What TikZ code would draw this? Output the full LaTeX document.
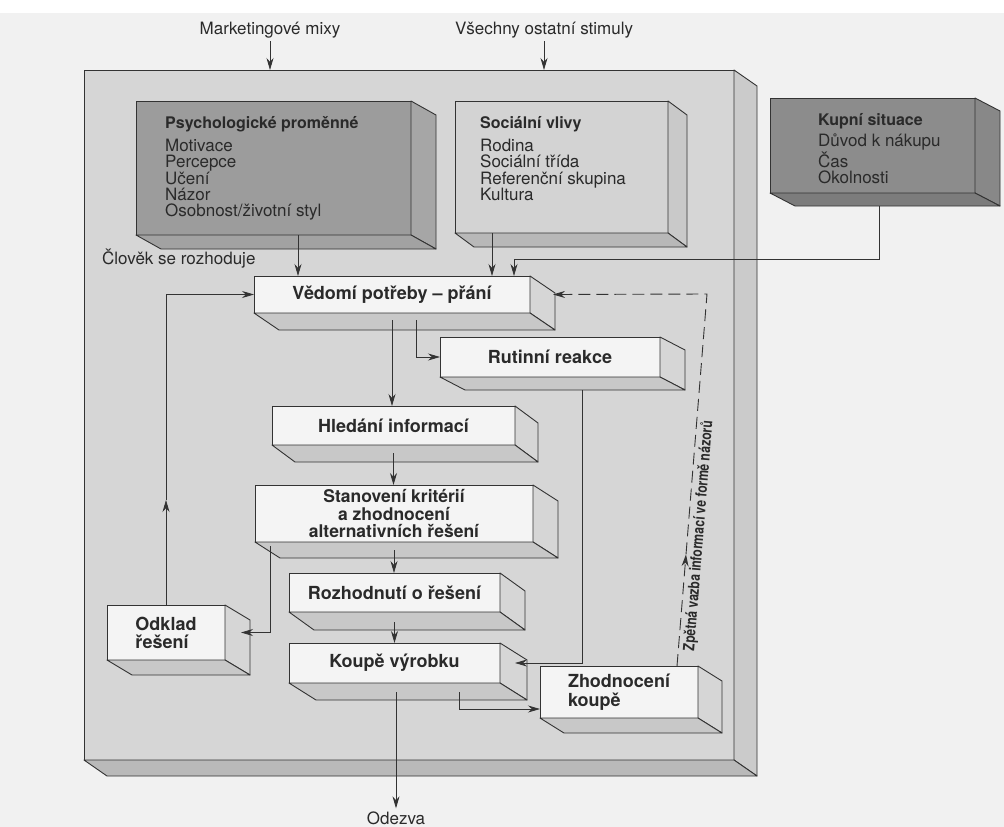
\documentclass[tikz,border=0pt]{standalone}
\usepackage{fontspec}
\setmainfont{TeX Gyre Heros}
\usetikzlibrary{arrows.meta,calc}
\definecolor{lnclr}{HTML}{333333}
\definecolor{txtclr}{HTML}{2a2a2a}
\definecolor{bgclr}{HTML}{F1F1F1}
\definecolor{mainF}{HTML}{D6D6D6}
\definecolor{mainR}{HTML}{CBCBCB}
\definecolor{mainB}{HTML}{B9B9B9}
\definecolor{psyF}{HTML}{9C9C9C}
\definecolor{psyR}{HTML}{A6A6A6}
\definecolor{psyB}{HTML}{A2A2A2}
\definecolor{socF}{HTML}{D3D3D3}
\definecolor{socR}{HTML}{C9C9C9}
\definecolor{socB}{HTML}{B8B8B8}
\definecolor{kupF}{HTML}{8C8C8C}
\definecolor{kupR}{HTML}{888888}
\definecolor{kupB}{HTML}{7C7C7C}
\definecolor{smF}{HTML}{F4F4F4}
\definecolor{smR}{HTML}{D6D6D6}
\definecolor{smB}{HTML}{C8C8C8}
\newcommand\boxfaces[5]{%
  \filldraw[fill=#4,draw=lnclr,line width=0.9pt,line join=round]
    (#1.north east) -- ++(#2,#3) -- ([shift={(#2,#3)}]#1.south east) -- (#1.south east) -- cycle;
  \filldraw[fill=#5,draw=lnclr,line width=0.9pt,line join=round]
    (#1.south west) -- ([shift={(#2,#3)}]#1.south west) -- ([shift={(#2,#3)}]#1.south east) -- (#1.south east) -- cycle;}
\tikzset{
  frontbox/.style={draw=lnclr, line width=0.9pt, inner sep=0pt, outer sep=0pt, anchor=north west,
     text=txtclr, align=center, font=\fontsize{18}{17}\selectfont\bfseries},
  titletxt/.style={inner sep=0pt, anchor=base west, text=txtclr, font=\fontsize{16}{16}\selectfont\bfseries},
  listtxt/.style={inner sep=0pt, anchor=north west, text=txtclr, align=left, font=\fontsize{17}{16.3}\selectfont},
  plaintxt/.style={inner sep=3pt, text=txtclr, font=\fontsize{17}{17}\selectfont},
  arr/.style={draw=lnclr, line width=0.8pt, -{Stealth[length=12pt,width=7pt]}},
  fb/.style={draw=lnclr, line width=0.9pt, dash pattern=on 12pt off 6pt},
  fbarr/.style={fb, -{Stealth[length=12pt,width=7pt]}},
}
\begin{document}
\begin{tikzpicture}[x=1pt,y=-1pt]
\useasboundingbox (0,0) rectangle (1004,827);
\fill[bgclr] (0,0) rectangle (1004,827);
\fill[white] (0,0) rectangle (1004,13);

% main box
\node[frontbox, fill=mainF, minimum width=650pt, minimum height=690pt] (M) at (84,70) {};
\boxfaces{M}{23}{16}{mainR}{mainB}

% top labels
\node[plaintxt] (mk) at (270,30) {Marketingové mixy};
\node[plaintxt] (st) at (544,30) {Všechny ostatní stimuly};
\draw[arr] (mk.south) -- (mk.south |- M.north);
\draw[arr] (st.south) -- (st.south |- M.north);

% psychological variables
\node[frontbox, fill=psyF, minimum width=275pt, minimum height=134pt] (psy) at (136,101) {};
\boxfaces{psy}{25}{14}{psyR}{psyB}
\node[titletxt] (psyT) at (165,128) {Psychologické proměnné};
\node[listtxt] (psyL) at (165,139) {Motivace\\Percepce\\Učení\\Názor\\Osobnost/životní styl};

% social influences
\node[frontbox, fill=socF, minimum width=213pt, minimum height=132pt] (soc) at (455,101) {};
\boxfaces{soc}{19}{14}{socR}{socB}
\node[titletxt] (socT) at (480,128) {Sociální vlivy};
\node[listtxt] (socL) at (480,139) {Rodina\\Sociální třída\\Referenční skupina\\Kultura};

% buying situation
\node[frontbox, fill=kupF, minimum width=205pt, minimum height=95pt] (kup) at (770,98) {};
\boxfaces{kup}{25}{13}{kupR}{kupB}
\node[titletxt] (kupT) at (818,125) {Kupní situace};
\node[listtxt] (kupL) at (818,134) {Důvod k nákupu\\Čas\\Okolnosti};

\node[plaintxt, anchor=west, inner sep=0pt] (clov) at (102,259) {Člověk se rozhoduje};

% process boxes
\node[frontbox, fill=smF, minimum width=276pt, minimum height=37pt] (V) at (254,276) {Vědomí potřeby – přání};
\boxfaces{V}{25}{17}{smR}{smB}
\node[frontbox, fill=smF, minimum width=220pt, minimum height=40pt] (R) at (440,337) {Rutinní reakce};
\boxfaces{R}{25}{13}{smR}{smB}
\node[frontbox, fill=smF, minimum width=243pt, minimum height=39pt] (H) at (272,406) {Hledání informací};
\boxfaces{H}{23}{17}{smR}{smB}
\node[frontbox, fill=smF, minimum width=278pt, minimum height=57pt,
      font=\fontsize{17.5}{17.5}\selectfont\bfseries] (S) at (255,485) {Stanovení kritérií\\a zhodnocení\\alternativních řešení};
\boxfaces{S}{25}{16}{smR}{smB}
\node[frontbox, fill=smF, minimum width=211pt, minimum height=39pt] (D) at (289,573) {Rozhodnutí o řešení};
\boxfaces{D}{25}{18}{smR}{smB}
\node[frontbox, fill=smF, minimum width=211pt, minimum height=40pt] (K) at (289,643) {Koupě výrobku};
\boxfaces{K}{27}{17}{smR}{smB}
\node[frontbox, fill=smF, minimum width=118pt, minimum height=55pt, align=left,
      font=\fontsize{18}{18}\selectfont\bfseries] (O) at (107,605) {Odklad\\řešení};
\boxfaces{O}{25}{15}{smR}{smB}
\node[frontbox, fill=smF, minimum width=158pt, minimum height=52pt, align=left,
      font=\fontsize{18}{18.5}\selectfont\bfseries] (Z) at (540,666) {Zhodnocení\\koupě};
\boxfaces{Z}{24}{15}{smR}{smB}

% connectors
\draw[arr] ([xshift=44pt]V.north west |- psy.south) -- ([xshift=44pt]V.north west);
\draw[arr] ([xshift=238pt]V.north west |- soc.south) -- ([xshift=238pt]V.north west);
\coordinate (kj) at (514,259);
\draw[arr] ([xshift=6.5pt,yshift=-13pt]kup.south) |- (kj) -- (V.north -| kj);
\coordinate (omid) at (166,500);
\draw[arr] (O.north) -- (omid);
\draw[arr] (omid) |- (V.west);
\draw[arr] ([yshift=-7pt]V.south) -- (V.south |- H.north);
\draw[arr] ([xshift=24pt,yshift=-7pt]V.south) |- (R.west);
\draw[arr] ([xshift=32pt,yshift=-13pt]R.south) |- ([xshift=15pt]K.east);
\draw[arr] ([yshift=-8pt]H.south) -- (H.south |- S.north);
\draw[arr] ([yshift=-8pt]S.south) -- (S.south |- D.north);
\draw[arr] ([xshift=15pt,yshift=-4pt]S.south west) |- ([xshift=16pt]O.east);
\draw[arr] ([yshift=-10pt]D.south) -- (D.south |- K.north);
\draw[arr] ([xshift=-41pt,yshift=-9pt]K.south east) |- ([yshift=-17pt]Z.west);
\node[plaintxt] (od) at (396,818) {Odezva};
\draw[arr] ([xshift=1.5pt,yshift=-9pt]K.south) -- ([xshift=1.5pt]K.south |- od.north);

% feedback (dashed)
\coordinate (zs) at ([xshift=137pt]Z.north west);
\coordinate (fbk) at (707,294);
\coordinate (fmid) at ($(zs)!0.30!(fbk)$);
\draw[fbarr] (zs) -- (fmid);
\draw[fbarr] (fmid) -- (fbk) -- ([xshift=23pt]V.east);
\node[inner sep=0pt, text=txtclr, font=\fontsize{15.5}{15.5}\selectfont\bfseries, rotate=85.4] (fbT) at (699,536)
  {\scalebox{0.78}[1]{Zpětná vazba informací ve formě názorů}};
\end{tikzpicture}
\end{document}
